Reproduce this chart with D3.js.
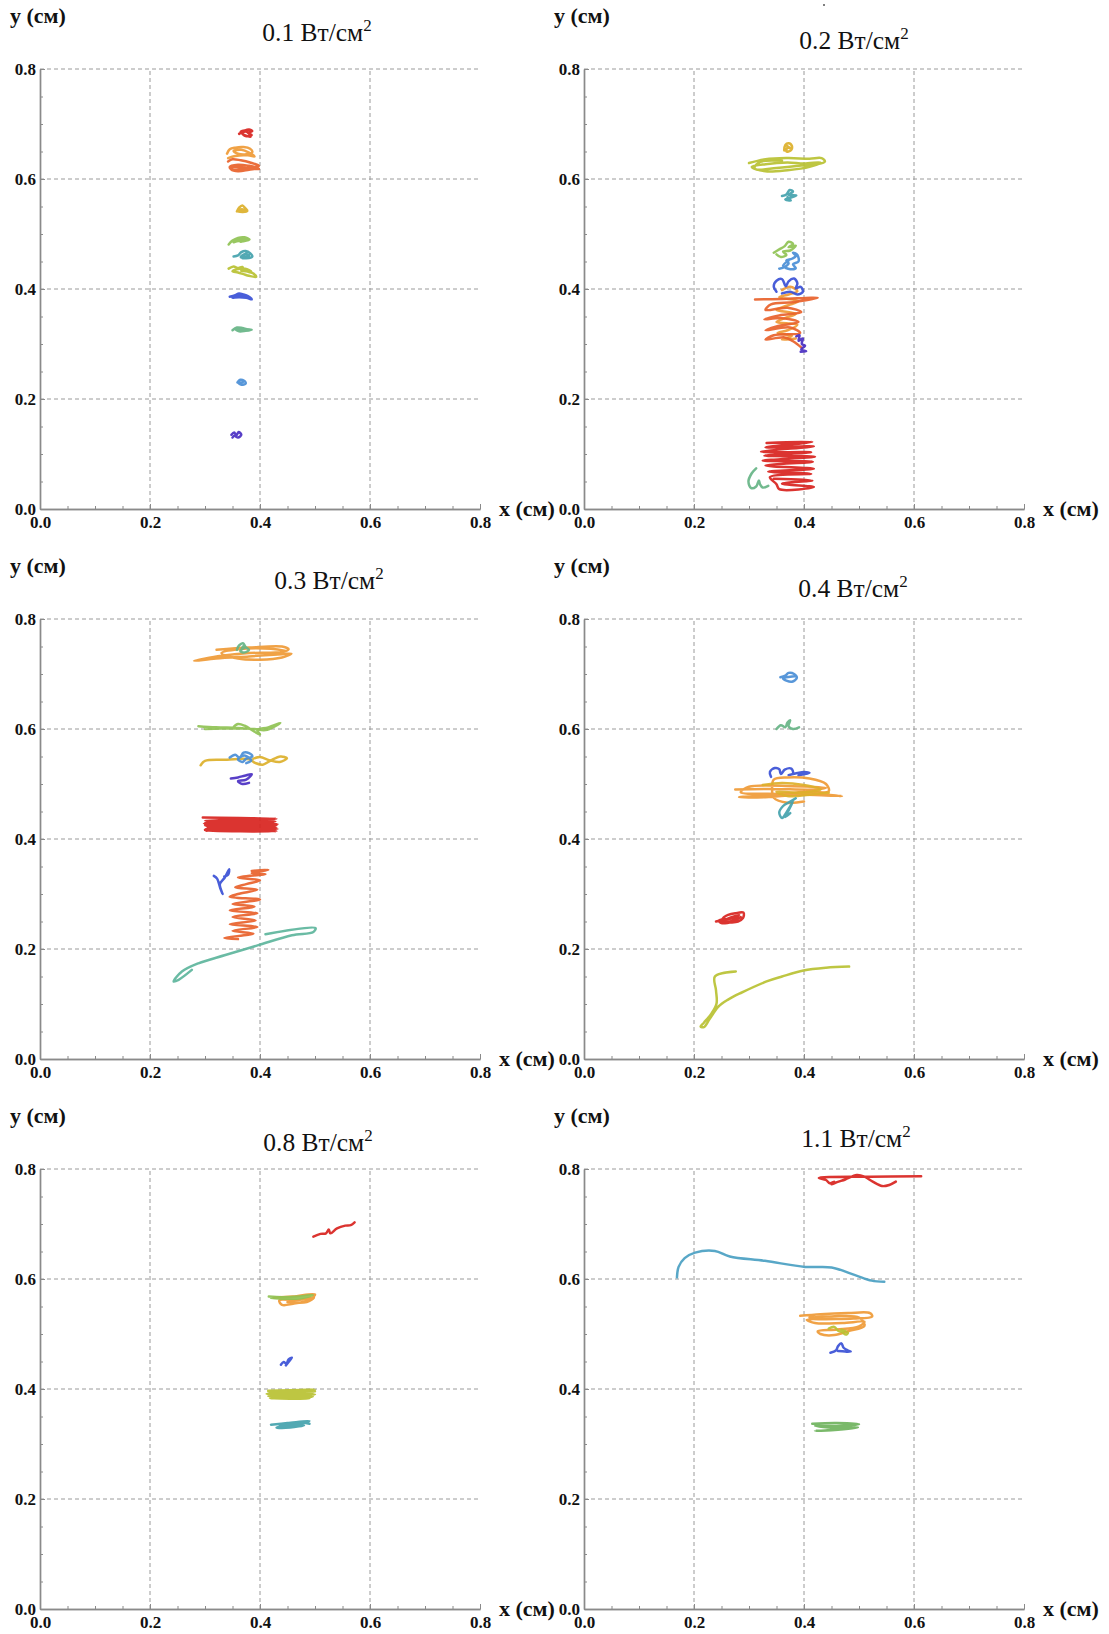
<!DOCTYPE html>
<html>
<head>
<meta charset="utf-8">
<script src="https://cdn.jsdelivr.net/npm/d3@7"></script>
<style>
  body { margin: 0; background: #fff; }
  svg { display: block; }
</style>
</head>
<body>
<svg id="chart" width="1109" height="1634"></svg>
<script>
// ---- Intensity of each panel (W/cm^2) ----
const intensities = ["0.1", "0.2", "0.3", "0.4", "0.8", "1.1"];
const xTicks = [0, 0.2, 0.4, 0.6, 0.8];
const yTicks = [0, 0.2, 0.4, 0.6, 0.8];
const gridX = [0.2, 0.4, 0.6];
const gridY = [0.2, 0.4, 0.6, 0.8];

// ---- Trajectories, [x, y] in cm ----
// 0.1 W/cm^2
const a_red     = [[0.362,0.682],[0.372,0.688],[0.38,0.69],[0.386,0.687],[0.378,0.684],[0.385,0.68],[0.374,0.678],[0.367,0.684],[0.376,0.686],[0.383,0.677],[0.37,0.681],[0.365,0.686],[0.378,0.689]];
const a_orange  = [[0.34,0.646],[0.345,0.654],[0.355,0.657],[0.37,0.658],[0.382,0.655],[0.386,0.649],[0.375,0.645],[0.36,0.646],[0.352,0.651],[0.366,0.653],[0.38,0.648],[0.39,0.641],[0.378,0.643],[0.355,0.642],[0.342,0.638]];
const a_redOr   = [[0.342,0.632],[0.35,0.636],[0.365,0.634],[0.382,0.63],[0.398,0.624],[0.385,0.621],[0.365,0.619],[0.35,0.616],[0.345,0.622],[0.36,0.626],[0.38,0.624],[0.397,0.62],[0.38,0.617],[0.36,0.614],[0.347,0.618],[0.355,0.622],[0.375,0.62],[0.398,0.618]];
const a_gold    = [[0.358,0.541],[0.362,0.548],[0.368,0.552],[0.373,0.547],[0.377,0.542],[0.368,0.54],[0.36,0.542],[0.367,0.545],[0.374,0.541],[0.364,0.543]];
const a_lime    = [[0.343,0.481],[0.35,0.488],[0.36,0.493],[0.372,0.494],[0.381,0.49],[0.37,0.487],[0.358,0.487],[0.352,0.485],[0.362,0.49],[0.375,0.489],[0.365,0.486]];
const a_teal    = [[0.352,0.459],[0.36,0.461],[0.366,0.467],[0.374,0.469],[0.382,0.465],[0.386,0.459],[0.375,0.456],[0.365,0.458],[0.372,0.463],[0.38,0.461],[0.368,0.456],[0.376,0.466]];
const a_olive   = [[0.343,0.437],[0.352,0.441],[0.36,0.438],[0.368,0.44],[0.372,0.433],[0.38,0.431],[0.388,0.428],[0.393,0.422],[0.38,0.424],[0.37,0.427],[0.36,0.43],[0.35,0.432],[0.358,0.436],[0.373,0.437],[0.384,0.432],[0.366,0.433]];
const a_blue    = [[0.345,0.386],[0.355,0.389],[0.362,0.392],[0.37,0.39],[0.378,0.387],[0.385,0.381],[0.375,0.384],[0.362,0.385],[0.35,0.384],[0.365,0.388],[0.376,0.385]];
const a_green   = [[0.35,0.325],[0.358,0.33],[0.368,0.329],[0.376,0.327],[0.385,0.326],[0.374,0.324],[0.362,0.323],[0.355,0.327],[0.37,0.326]];
const a_sky     = [[0.359,0.23],[0.364,0.235],[0.371,0.233],[0.374,0.228],[0.366,0.226],[0.361,0.229],[0.369,0.231]];
const a_violet  = [[0.348,0.135],[0.353,0.139],[0.357,0.134],[0.361,0.14],[0.366,0.135],[0.36,0.13],[0.354,0.133],[0.35,0.13]];

// 0.2 W/cm^2
const b_gold    = [[0.364,0.652],[0.366,0.662],[0.372,0.665],[0.378,0.66],[0.376,0.652],[0.368,0.65],[0.37,0.657],[0.377,0.655],[0.368,0.661]];
const b_olive   = [[0.3,0.629],[0.33,0.636],[0.37,0.638],[0.41,0.637],[0.432,0.638],[0.438,0.632],[0.425,0.627],[0.39,0.624],[0.35,0.62],[0.315,0.617],[0.305,0.622],[0.33,0.627],[0.37,0.63],[0.4,0.628],[0.43,0.63],[0.41,0.622],[0.37,0.616],[0.33,0.614],[0.31,0.62],[0.32,0.631],[0.36,0.633]];
const b_teal    = [[0.36,0.569],[0.368,0.572],[0.374,0.58],[0.38,0.577],[0.372,0.571],[0.386,0.57],[0.375,0.566],[0.366,0.563],[0.376,0.561],[0.37,0.567]];
const b_lime    = [[0.345,0.466],[0.355,0.472],[0.365,0.478],[0.372,0.486],[0.38,0.482],[0.372,0.476],[0.385,0.479],[0.375,0.47],[0.362,0.468],[0.368,0.462],[0.358,0.458],[0.35,0.463]];
const b_sky     = [[0.355,0.437],[0.365,0.44],[0.372,0.447],[0.368,0.452],[0.378,0.455],[0.385,0.46],[0.38,0.466],[0.388,0.462],[0.39,0.45],[0.38,0.445],[0.385,0.438],[0.375,0.436],[0.362,0.442],[0.372,0.452]];
const b_blue    = [[0.35,0.395],[0.345,0.405],[0.35,0.415],[0.36,0.418],[0.367,0.405],[0.372,0.414],[0.382,0.419],[0.388,0.41],[0.385,0.401],[0.394,0.404],[0.398,0.395],[0.388,0.39],[0.375,0.395],[0.36,0.392]];
const b_orange  = [[0.36,0.398],[0.375,0.404],[0.388,0.396],[0.372,0.39],[0.355,0.385],[0.39,0.378],[0.37,0.37],[0.35,0.362],[0.385,0.355],[0.365,0.347],[0.35,0.34],[0.388,0.335],[0.37,0.325],[0.352,0.32],[0.378,0.315],[0.36,0.308],[0.385,0.31]];
const b_redOr   = [[0.311,0.381],[0.36,0.382],[0.425,0.384],[0.38,0.376],[0.34,0.372],[0.33,0.362],[0.37,0.366],[0.395,0.358],[0.355,0.352],[0.328,0.345],[0.36,0.347],[0.39,0.34],[0.35,0.332],[0.33,0.325],[0.375,0.33],[0.393,0.32],[0.345,0.316],[0.33,0.308],[0.365,0.312],[0.38,0.305],[0.396,0.293]];
const b_violet  = [[0.386,0.314],[0.392,0.316],[0.39,0.306],[0.398,0.31],[0.396,0.3],[0.402,0.297],[0.395,0.29],[0.404,0.287],[0.394,0.286]];
const b_red     = [[0.332,0.12],[0.415,0.122],[0.33,0.112],[0.418,0.114],[0.322,0.104],[0.413,0.103],[0.328,0.097],[0.42,0.095],[0.325,0.088],[0.416,0.086],[0.33,0.079],[0.418,0.073],[0.335,0.068],[0.413,0.064],[0.338,0.058],[0.35,0.045],[0.355,0.036],[0.418,0.04],[0.36,0.046],[0.415,0.052],[0.345,0.055]];
const b_green   = [[0.313,0.074],[0.305,0.065],[0.299,0.05],[0.304,0.038],[0.313,0.041],[0.318,0.052],[0.32,0.045],[0.325,0.039],[0.335,0.042]];

// 0.3 W/cm^2
const c_orange  = [[0.321,0.744],[0.38,0.748],[0.44,0.75],[0.452,0.745],[0.44,0.74],[0.38,0.738],[0.33,0.733],[0.28,0.724],[0.32,0.728],[0.38,0.732],[0.44,0.736],[0.457,0.737],[0.44,0.73],[0.4,0.726],[0.36,0.728],[0.33,0.738],[0.36,0.745],[0.42,0.746],[0.447,0.742]];
const c_green   = [[0.358,0.744],[0.362,0.752],[0.369,0.756],[0.374,0.749],[0.38,0.744],[0.371,0.739],[0.364,0.742],[0.372,0.748],[0.366,0.745],[0.37,0.751]];
const c_lime    = [[0.288,0.605],[0.32,0.603],[0.36,0.602],[0.39,0.6],[0.41,0.598],[0.437,0.611],[0.415,0.603],[0.395,0.598],[0.4,0.59],[0.39,0.595],[0.372,0.606],[0.36,0.609],[0.352,0.603],[0.37,0.601],[0.33,0.601],[0.3,0.6]];
const c_sky     = [[0.345,0.548],[0.355,0.553],[0.363,0.548],[0.37,0.557],[0.38,0.556],[0.386,0.55],[0.375,0.546],[0.368,0.54],[0.36,0.545],[0.372,0.552],[0.384,0.543],[0.375,0.538]];
const c_gold    = [[0.292,0.534],[0.3,0.542],[0.34,0.544],[0.38,0.545],[0.392,0.538],[0.405,0.535],[0.42,0.543],[0.437,0.55],[0.449,0.547],[0.436,0.54],[0.418,0.543],[0.4,0.549],[0.388,0.546]];
const c_violet  = [[0.347,0.51],[0.36,0.512],[0.372,0.515],[0.385,0.518],[0.375,0.508],[0.36,0.505],[0.368,0.5],[0.38,0.502]];
const c_red     = [[0.296,0.439],[0.43,0.437],[0.3,0.433],[0.428,0.432],[0.298,0.428],[0.432,0.427],[0.3,0.424],[0.428,0.422],[0.302,0.419],[0.432,0.418],[0.3,0.415],[0.43,0.414],[0.305,0.421],[0.43,0.425],[0.3,0.43],[0.425,0.429],[0.3,0.426],[0.43,0.42],[0.3,0.417]];
const c_blue    = [[0.316,0.333],[0.322,0.328],[0.328,0.31],[0.332,0.3],[0.327,0.318],[0.336,0.33],[0.344,0.345],[0.342,0.335],[0.335,0.332]];
const c_redOr   = [[0.385,0.342],[0.415,0.344],[0.385,0.338],[0.41,0.336],[0.36,0.33],[0.4,0.325],[0.375,0.318],[0.355,0.312],[0.395,0.308],[0.36,0.3],[0.345,0.295],[0.4,0.29],[0.35,0.282],[0.39,0.277],[0.345,0.27],[0.395,0.265],[0.35,0.258],[0.392,0.252],[0.345,0.245],[0.395,0.24],[0.35,0.233],[0.388,0.228],[0.335,0.22],[0.36,0.218]];
const c_seafoam = [[0.41,0.227],[0.501,0.238],[0.497,0.231],[0.458,0.225],[0.397,0.207],[0.337,0.189],[0.288,0.174],[0.258,0.159],[0.243,0.141],[0.252,0.144],[0.276,0.162]];

// 0.4 W/cm^2
const d_sky     = [[0.357,0.694],[0.366,0.697],[0.372,0.702],[0.382,0.7],[0.387,0.693],[0.378,0.686],[0.368,0.688],[0.362,0.692],[0.375,0.695],[0.383,0.696]];
const d_green   = [[0.35,0.6],[0.358,0.607],[0.366,0.603],[0.37,0.612],[0.375,0.616],[0.372,0.605],[0.38,0.6],[0.391,0.603]];
const d_blue    = [[0.34,0.513],[0.338,0.522],[0.347,0.529],[0.355,0.527],[0.358,0.518],[0.365,0.526],[0.377,0.528],[0.38,0.519],[0.372,0.516],[0.388,0.52],[0.4,0.522],[0.41,0.52],[0.39,0.516]];
const d_orange  = [[0.275,0.49],[0.34,0.491],[0.42,0.49],[0.44,0.493],[0.38,0.496],[0.3,0.495],[0.285,0.485],[0.35,0.482],[0.42,0.48],[0.469,0.478],[0.41,0.482],[0.33,0.476],[0.282,0.476],[0.34,0.48],[0.4,0.486],[0.445,0.487],[0.44,0.5],[0.41,0.51],[0.37,0.512],[0.345,0.508],[0.342,0.492],[0.345,0.475],[0.37,0.466],[0.4,0.468]];
const d_gold    = [[0.325,0.498],[0.36,0.502],[0.4,0.498],[0.43,0.49],[0.39,0.484],[0.35,0.486],[0.37,0.478],[0.42,0.482],[0.445,0.484]];
const d_teal    = [[0.385,0.474],[0.375,0.468],[0.362,0.46],[0.355,0.448],[0.36,0.438],[0.366,0.445],[0.374,0.458],[0.38,0.468],[0.372,0.452],[0.366,0.44],[0.375,0.447]];
const d_red     = [[0.24,0.25],[0.25,0.253],[0.255,0.258],[0.262,0.262],[0.275,0.265],[0.29,0.266],[0.289,0.256],[0.28,0.25],[0.265,0.248],[0.25,0.247],[0.245,0.252],[0.27,0.256],[0.282,0.262],[0.258,0.254],[0.248,0.25],[0.27,0.251],[0.285,0.258]];
const d_olive   = [[0.276,0.159],[0.238,0.15],[0.24,0.125],[0.241,0.101],[0.232,0.083],[0.218,0.066],[0.212,0.059],[0.218,0.058],[0.228,0.072],[0.244,0.095],[0.262,0.108],[0.285,0.12],[0.332,0.141],[0.36,0.15],[0.399,0.161],[0.44,0.166],[0.482,0.168]];

// 0.8 W/cm^2
const e_red     = [[0.497,0.677],[0.51,0.682],[0.52,0.683],[0.525,0.69],[0.528,0.683],[0.54,0.692],[0.555,0.697],[0.565,0.698],[0.572,0.703]];
const e_lime    = [[0.416,0.568],[0.44,0.567],[0.47,0.568],[0.496,0.571],[0.475,0.565],[0.445,0.564],[0.42,0.566]];
const e_orange  = [[0.425,0.566],[0.46,0.568],[0.5,0.572],[0.49,0.562],[0.46,0.555],[0.44,0.553],[0.435,0.561],[0.47,0.562],[0.498,0.566],[0.485,0.558],[0.45,0.558]];
const e_blue    = [[0.438,0.444],[0.443,0.449],[0.448,0.446],[0.452,0.454],[0.458,0.457],[0.452,0.449],[0.447,0.443]];
const e_olive   = [[0.415,0.397],[0.5,0.399],[0.415,0.395],[0.498,0.394],[0.412,0.391],[0.5,0.39],[0.415,0.387],[0.496,0.386],[0.418,0.383],[0.49,0.383],[0.415,0.392],[0.5,0.396]];
const e_teal    = [[0.42,0.335],[0.45,0.338],[0.49,0.342],[0.47,0.336],[0.44,0.332],[0.48,0.334],[0.455,0.33],[0.43,0.33],[0.47,0.339],[0.49,0.337]];

// 1.1 W/cm^2
const f_red     = [[0.613,0.787],[0.52,0.786],[0.427,0.784],[0.44,0.78],[0.447,0.774],[0.455,0.777],[0.45,0.772],[0.46,0.776],[0.475,0.781],[0.496,0.789],[0.51,0.786],[0.525,0.777],[0.542,0.769],[0.555,0.771],[0.567,0.777]];
const f_cyan    = [[0.169,0.603],[0.172,0.622],[0.183,0.638],[0.202,0.648],[0.238,0.651],[0.265,0.641],[0.329,0.633],[0.402,0.622],[0.45,0.621],[0.493,0.607],[0.523,0.597],[0.546,0.595]];
const f_orange  = [[0.393,0.533],[0.43,0.536],[0.48,0.538],[0.52,0.538],[0.524,0.532],[0.49,0.528],[0.44,0.527],[0.405,0.526],[0.42,0.52],[0.47,0.52],[0.51,0.522],[0.5,0.514],[0.46,0.508],[0.425,0.505],[0.43,0.5],[0.455,0.498],[0.48,0.505],[0.51,0.515],[0.5,0.53],[0.45,0.532],[0.41,0.53]];
const f_olive   = [[0.445,0.51],[0.455,0.513],[0.462,0.506],[0.47,0.503],[0.476,0.499],[0.48,0.502],[0.468,0.508]];
const f_blue    = [[0.448,0.466],[0.458,0.47],[0.462,0.478],[0.468,0.483],[0.472,0.475],[0.48,0.47],[0.485,0.468],[0.475,0.468],[0.462,0.469]];
const f_grass   = [[0.415,0.337],[0.46,0.338],[0.5,0.336],[0.47,0.333],[0.42,0.333],[0.46,0.329],[0.498,0.33],[0.45,0.325],[0.42,0.324],[0.47,0.327]];

// Which tracks belong to which panel, with their colour group
const panel1 = [["red",a_red],["orange",a_orange],["redOr",a_redOr],["gold",a_gold],["lime",a_lime],["teal",a_teal],["olive",a_olive],["blue",a_blue],["green",a_green],["sky",a_sky],["violet",a_violet]];
const panel2 = [["gold",b_gold],["olive",b_olive],["teal",b_teal],["lime",b_lime],["sky",b_sky],["orange",b_orange],["redOr",b_redOr],["blue",b_blue],["violet",b_violet],["red",b_red],["green",b_green]];
const panel3 = [["orange",c_orange],["green",c_green],["lime",c_lime],["gold",c_gold],["sky",c_sky],["violet",c_violet],["red",c_red],["blue",c_blue],["redOr",c_redOr],["seafoam",c_seafoam]];
const panel4 = [["sky",d_sky],["green",d_green],["blue",d_blue],["orange",d_orange],["gold",d_gold],["teal",d_teal],["red",d_red],["olive",d_olive]];
const panel5 = [["red",e_red],["orange",e_orange],["lime",e_lime],["blue",e_blue],["olive",e_olive],["teal",e_teal]];
const panel6 = [["red",f_red],["cyan",f_cyan],["orange",f_orange],["olive",f_olive],["blue",f_blue],["grass",f_grass]];
const panels = [panel1, panel2, panel3, panel4, panel5, panel6];

// ---- Styling ----
const palette = {
  red: "#d8231e", redOr: "#e8622b", orange: "#ef9a36", gold: "#dcb02a",
  olive: "#b8c132", lime: "#8fc254", green: "#66b486", teal: "#43a2ac",
  sky: "#4a8ed6", blue: "#3a50d6", violet: "#4a2fc2", seafoam: "#5db59c",
  cyan: "#4aa0c2", grass: "#6fb35d"
};
const SERIF = '"Liberation Serif", "Times New Roman", serif';
const SPAN = 440;
const layout = [
  { x0: 40,  y0: 509,  tx: 317, ty: 41 },
  { x0: 584, y0: 509,  tx: 854, ty: 49 },
  { x0: 40,  y0: 1059, tx: 329, ty: 589 },
  { x0: 584, y0: 1059, tx: 853, ty: 597 },
  { x0: 40,  y0: 1609, tx: 318, ty: 1151 },
  { x0: 584, y0: 1609, tx: 856, ty: 1147 }
];

const svg = d3.select("#chart");
svg.append("rect").attr("width", 1109).attr("height", 1634).attr("fill", "#fff");

panels.forEach((tracks, i) => {
  const L = layout[i];
  const x = d3.scaleLinear().domain([0, 0.8]).range([L.x0, L.x0 + SPAN]);
  const y = d3.scaleLinear().domain([0, 0.8]).range([L.y0, L.y0 - SPAN]);
  const g = svg.append("g");

  // dashed grid
  g.append("g").selectAll("line").data(gridX).join("line")
    .attr("x1", d => x(d)).attr("x2", d => x(d))
    .attr("y1", y(0)).attr("y2", y(0.8))
    .attr("stroke", "#9a9a9a").attr("stroke-width", 1).attr("stroke-dasharray", "4,3");
  g.append("g").selectAll("line").data(gridY).join("line")
    .attr("x1", x(0)).attr("x2", x(0.8))
    .attr("y1", d => y(d)).attr("y2", d => y(d))
    .attr("stroke", "#9a9a9a").attr("stroke-width", 1).attr("stroke-dasharray", "4,3");

  // minor ticks
  const minorAxX = d3.axisBottom(x).ticks(16).tickSize(-3).tickSizeOuter(0).tickFormat("");
  const minorAxY = d3.axisLeft(y).ticks(16).tickSize(-3).tickSizeOuter(0).tickFormat("");
  // major axes with labels
  const axX = d3.axisBottom(x).tickValues(xTicks).tickSize(-5).tickSizeOuter(0).tickPadding(7).tickFormat(d3.format(".1f"));
  const axY = d3.axisLeft(y).tickValues(yTicks).tickSize(-5).tickSizeOuter(0).tickPadding(4).tickFormat(d3.format(".1f"));

  [minorAxX, axX].forEach(a => g.append("g").attr("transform", `translate(0,${L.y0})`).call(a));
  [minorAxY, axY].forEach(a => g.append("g").attr("transform", `translate(${L.x0},0)`).call(a));

  g.selectAll(".domain").attr("stroke", "#8a8a8a").attr("stroke-width", 1.4);
  g.selectAll(".tick line").attr("stroke", "#8a8a8a").attr("stroke-width", 1);
  g.selectAll(".tick text")
    .attr("font-family", SERIF).attr("font-size", 17).attr("font-weight", "bold").attr("fill", "#111");

  // axis names
  g.append("text").attr("x", L.x0 - 30).attr("y", L.y0 - 486)
    .attr("font-family", SERIF).attr("font-size", 22).attr("font-weight", "bold").attr("fill", "#111")
    .text("y (см)");
  g.append("text").attr("x", L.x0 + SPAN + 19).attr("y", L.y0 + 7)
    .attr("font-family", SERIF).attr("font-size", 22).attr("font-weight", "bold").attr("fill", "#111")
    .text("x (см)");

  // panel title
  const t = g.append("text").attr("x", L.tx).attr("y", L.ty).attr("text-anchor", "middle")
    .attr("font-family", SERIF).attr("font-size", 25.5).attr("fill", "#111");
  t.append("tspan").text(intensities[i] + " Вт/см");
  t.append("tspan").attr("font-size", 17).attr("dy", -10).text("2");

  // trajectories
  const line = d3.line().x(d => x(d[0])).y(d => y(d[1])).curve(d3.curveCatmullRom.alpha(0.5));
  g.append("g").selectAll("path").data(tracks).join("path")
    .attr("d", d => line(d[1]))
    .attr("fill", "none")
    .attr("stroke", d => palette[d[0]])
    .attr("stroke-width", 2.5)
    .attr("stroke-linejoin", "round")
    .attr("stroke-linecap", "round")
    .attr("stroke-opacity", 0.92);
});

// small speck above the second panel
svg.append("circle").attr("cx", 824).attr("cy", 5).attr("r", 1).attr("fill", "#555");
</script>
</body>
</html>
